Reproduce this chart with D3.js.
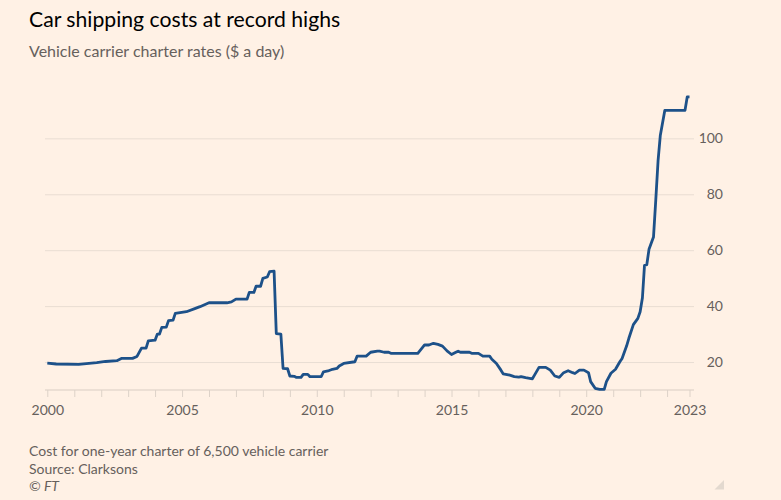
<!DOCTYPE html>
<html>
<head>
<meta charset="utf-8">
<script src="https://cdn.jsdelivr.net/npm/d3@7"></script>
<style>
  html, body { margin: 0; padding: 0; background: #fff1e5; }
  svg { display: block; }
  text { font-family: Lato, "Noto Sans", sans-serif; }
</style>
</head>
<body>
<svg id="chart" width="781" height="500"></svg>
<script>
// ---- Data (thousand $ a day) ----
const dates = [
  "2000-01","2000-05","2001-03","2001-11","2002-03","2002-08","2002-10","2003-03","2003-05","2003-07","2003-09","2003-10",
  "2004-01","2004-02","2004-03","2004-04","2004-06","2004-07","2004-09","2004-10",
  "2005-03","2005-07","2005-09","2006-01","2006-09","2006-11",
  "2007-01","2007-06","2007-07","2007-09","2007-10","2007-12",
  "2008-01","2008-03","2008-04","2008-06","2008-07","2008-09","2008-10","2008-12",
  "2009-01","2009-03","2009-04","2009-06","2009-07","2009-09","2009-10",
  "2010-03","2010-04","2010-06","2010-08","2010-10","2010-11",
  "2011-01","2011-06","2011-07","2011-11",
  "2012-01","2012-04","2012-05","2012-07","2012-09","2012-10","2013-10",
  "2014-01","2014-03","2014-05","2014-07","2014-09","2014-11",
  "2015-01","2015-03","2015-04","2015-05","2015-09","2015-10",
  "2016-01","2016-03","2016-06","2016-07","2016-09","2016-11","2016-12",
  "2017-03","2017-05","2017-07","2017-08","2017-10",
  "2018-01","2018-02","2018-04","2018-07","2018-09","2018-11",
  "2019-01","2019-03","2019-05","2019-07","2019-08","2019-10","2019-12",
  "2020-02","2020-03","2020-05","2020-07","2020-09","2020-10","2020-12",
  "2021-02","2021-04","2021-05","2021-07","2021-08","2021-10","2021-12",
  "2022-01","2022-02","2022-03","2022-04","2022-05","2022-07","2022-08","2022-09","2022-10","2022-12",
  "2023-09","2023-10","2023-11"
];
const values = [
  19.6,19.3,19.2,19.8,20.2,20.5,21.3,21.3,22,25,25,27.6,
  27.8,30,30,32.4,32.5,34.8,35,37.4,
  38,39.2,39.8,41.2,41.2,41.5,
  42.5,42.5,44.9,44.9,47.1,47.1,
  49.9,50.4,52.3,52.5,30.2,30,17.7,17.6,
  15,14.9,14.5,14.5,15.6,15.6,14.75,
  14.75,16.5,16.8,17.4,17.7,18.6,
  19.5,20.1,22.1,22.1,
  23.5,23.9,23.9,23.5,23.5,23.1,23.1,
  26.1,26.1,26.7,26.3,25.7,24.0,
  22.7,23.5,23.9,23.5,23.5,23.1,
  23.1,22.1,22.1,21,19.5,17.1,15.8,
  15.3,14.8,14.6,14.8,14.4,
  14.0,15.4,18.1,18.1,17.1,15,
  14.5,16.2,16.9,16.2,15.9,17.1,17.1,
  16.2,13,10.6,10.2,10.2,13,16,
  17.4,20.1,21.3,25.7,28.5,33.4,35.6,
  38,43,54.6,54.8,60.3,64.7,78,92,101,110,
  110,114.8,114.8
];
const xLabelYears = [2000, 2005, 2010, 2015, 2020];
const endLabel = "2023";
const yTicks = [20, 40, 60, 80, 100];

const title = "Car shipping costs at record highs";
const subtitle = "Vehicle carrier charter rates ($ a day)";
const notes = ["Cost for one-year charter of 6,500 vehicle carrier", "Source: Clarksons"];
const credit = "© FT";

// ---- Chart ----
const parse = d3.timeParse("%Y-%m");
const data = dates.map((d, i) => ({ date: parse(d), value: values[i] }));

const svg = d3.select("#chart");
const plotLeft = 45, plotRight = 694;
const startDate = data[0].date, endDate = data[data.length - 1].date;

const x = d3.scaleTime().domain([startDate, endDate]).range([47.3, 689.5]);
const y = d3.scaleLinear().domain([10, 115]).range([390, 96.4]);

// gridlines
const grid = svg.append("g")
  .attr("transform", `translate(${plotRight},0)`)
  .call(d3.axisLeft(y).tickValues(yTicks).tickSize(plotRight - plotLeft).tickFormat(""));
grid.select(".domain").remove();
grid.selectAll("line").attr("stroke", "#e9ddd3").attr("stroke-width", 1);

// y labels
const yAx = svg.append("g")
  .attr("transform", `translate(723,0)`)
  .call(d3.axisRight(y).tickValues(yTicks).tickSize(0).tickPadding(0));
yAx.select(".domain").remove();
yAx.selectAll("text")
  .attr("text-anchor", "end")
  .attr("fill", "#66605c")
  .style("font-size", "14px")
  .style("font-family", "Lato, 'Noto Sans', sans-serif");

// x axis
const yearTicks = d3.range(2000, 2024).map(yr => new Date(yr, 0, 1));
const xTickValues = yearTicks.concat([endDate]);
const xAx = svg.append("g")
  .attr("transform", `translate(0,${y(10)})`)
  .call(d3.axisBottom(x)
    .tickValues(xTickValues)
    .tickSize(7)
    .tickPadding(8)
    .tickFormat(d => {
      if (d === endDate) return endLabel;
      const yr = d.getFullYear();
      return xLabelYears.includes(yr) ? String(yr) : "";
    }));
xAx.select(".domain")
  .attr("d", `M${plotLeft},0H${plotRight}`)
  .attr("stroke", "#d9cec4").attr("stroke-width", 1.2);
xAx.selectAll(".tick line").attr("stroke", "#ddd2c8");
xAx.selectAll("text")
  .attr("fill", "#66605c")
  .style("font-size", "14px")
  .style("font-family", "Lato, 'Noto Sans', sans-serif");

// line
const line = d3.line().x(d => x(d.date)).y(d => y(d.value));
svg.append("path")
  .datum(data)
  .attr("fill", "none")
  .attr("stroke", "#1d5189")
  .attr("stroke-width", 2.8)
  .attr("stroke-linejoin", "round")
  .attr("d", line);

// titles
svg.append("text").attr("x", 29).attr("y", 27)
  .attr("fill", "#000").style("font-size", "21.2px").text(title);
svg.append("text").attr("x", 29).attr("y", 57)
  .attr("fill", "#66605c").style("font-size", "16px").text(subtitle);

// footer
notes.forEach((t, i) => {
  svg.append("text").attr("x", 29).attr("y", 456 + i * 17.5)
    .attr("fill", "#66605c").style("font-size", "14px").text(t);
});
svg.append("text").attr("x", 29).attr("y", 491)
  .attr("fill", "#66605c").style("font-size", "14px").style("font-style", "italic").text(credit);

// corner grip
svg.append("path")
  .attr("d", "M724,480L724,489.5L714.5,489.5Z")
  .attr("fill", "#e3d9cf");
</script>
</body>
</html>
